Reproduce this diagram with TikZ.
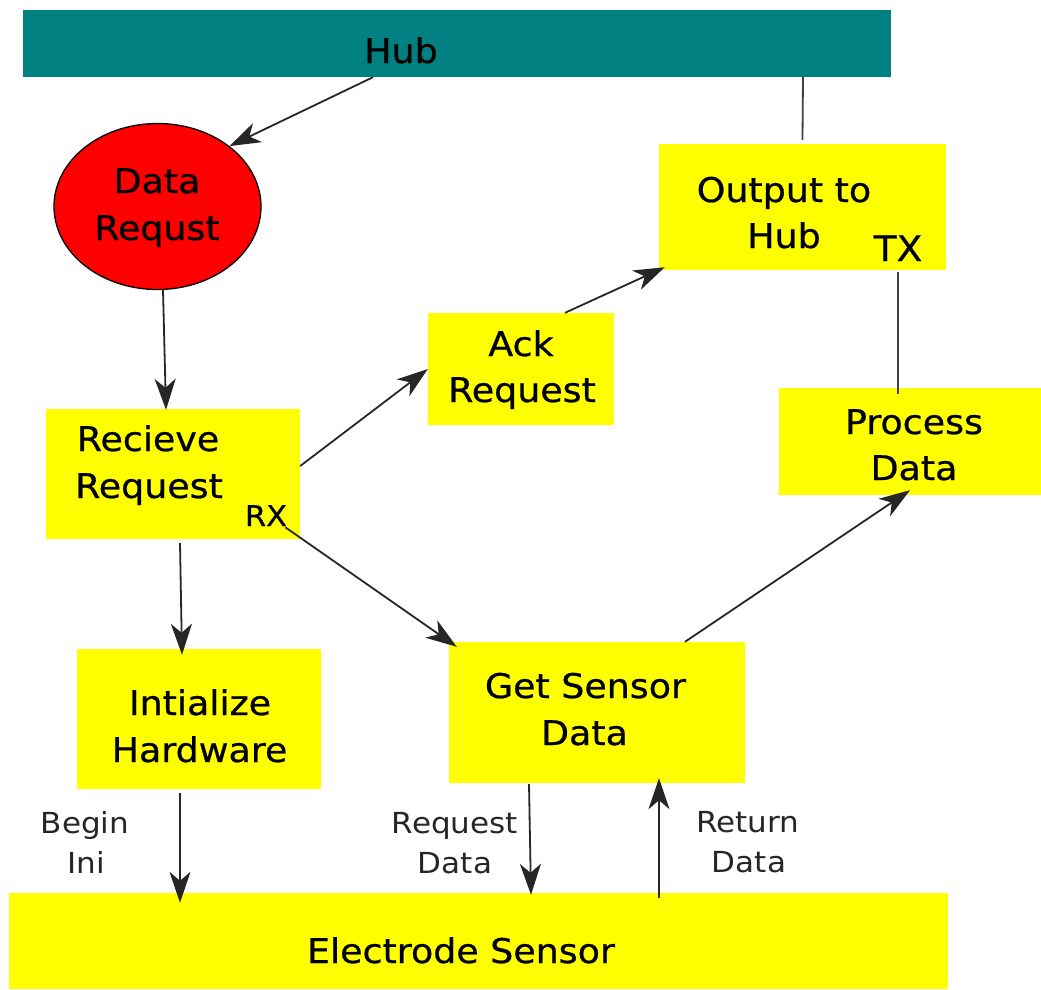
\documentclass[tikz,border=0pt]{standalone}
\usepackage{fontspec}
\setmainfont{DejaVu Sans}[FakeStretch=1.07]
\newfontfamily\heavyfont{DejaVu Sans}[FakeStretch=1.07,FakeBold=0.7]
\usetikzlibrary{arrows.meta,shapes.geometric}
\definecolor{hubteal}{RGB}{0,128,128}
\definecolor{boxyellow}{RGB}{255,255,0}
\definecolor{reqred}{RGB}{255,0,0}
\begin{document}
\begin{tikzpicture}[x=1pt,y=-1pt,
  ybox/.style={rectangle,fill=boxyellow,draw=none,inner sep=0pt,anchor=center},
  txt/.style={anchor=base,inner sep=0pt,font=\heavyfont\fontsize{34}{40}\selectfont},
  smalltxt/.style={anchor=base,inner sep=0pt,font=\fontsize{29}{34}\selectfont,text=black!85},
  arr/.style={line width=1.8pt,draw=black!85,-{Stealth[length=31pt,width=21pt,inset=9pt]}},
  plainline/.style={line width=1.8pt,draw=black!75}]
\useasboundingbox (0,0) rectangle (1041,989);
% shapes
\node[rectangle,fill=hubteal,inner sep=0pt,minimum width=868pt,minimum height=67pt] (hub) at (457,43.5) {};
\node[ellipse,fill=reqred,draw=black,line width=1.3pt,inner sep=0pt,minimum width=207pt,minimum height=166pt] (dr) at (157.5,206.5) {};
\node[ybox,minimum width=254pt,minimum height=130pt] (rr) at (173,474) {};
\node[ybox,minimum width=186pt,minimum height=112pt] (ack) at (521,369) {};
\node[ybox,minimum width=287pt,minimum height=126pt] (out) at (802.5,207) {};
\node[ybox,minimum width=262pt,minimum height=107pt] (proc) at (910,441.5) {};
\node[ybox,minimum width=244pt,minimum height=140pt] (init) at (199,719) {};
\node[ybox,minimum width=296pt,minimum height=141pt] (gs) at (597,712.5) {};
\node[ybox,minimum width=939pt,minimum height=96pt] (es) at (478.5,941) {};
% texts
\node[txt] (hubt) at (401,63) {Hub};
\node[txt] (drt1) at (157,193) {Data};
\node[txt] (drt2) at (157,240) {Requst};
\node[txt] (rrt1) at (148,451) {Recieve};
\node[txt] (rrt2) at (149,498) {Request};
\node[txt,font=\heavyfont\fontsize{28.5}{34}\selectfont] (rx) at (266,526) {RX};
\node[txt] (ackt1) at (521,356) {Ack};
\node[txt] (ackt2) at (522,402) {Request};
\node[txt] (outt1) at (784,202) {Output to};
\node[txt] (outt2) at (784,248) {Hub};
\node[txt,font=\heavyfont\fontsize{35}{40}\selectfont] (tx) at (898,261) {TX};
\node[txt] (proct1) at (914,434) {Process};
\node[txt] (proct2) at (914,480) {Data};
\node[txt] (initt1) at (200,715) {Intialize};
\node[txt] (initt2) at (199.5,762) {Hardware};
\node[txt] (gst1) at (585.5,698) {Get Sensor};
\node[txt] (gst2) at (584.5,745) {Data};
\node[txt] (est) at (461,963) {Electrode Sensor};
\node[smalltxt] (bi1) at (85,833) {Begin};
\node[smalltxt] (bi2) at (86,873) {Ini};
\node[smalltxt] (rd1) at (455,833) {Request};
\node[smalltxt] (rd2) at (455,873) {Data};
\node[smalltxt] (ret1) at (748,832) {Return};
\node[smalltxt] (ret2) at (749,872) {Data};
% connectors
\draw[arr] ([xshift=-84pt]hub.south) -- (dr.40);
\draw[arr] ([xshift=5.5pt]dr.south) -- ([xshift=-7pt,yshift=-1pt]rr.north);
\draw[arr] ([yshift=8pt]rr.east) -- (ack.west);
\draw[arr] ([xshift=44pt]ack.north) -- ([xshift=6pt,yshift=3pt]out.south west);
\draw[plainline] ([xshift=346pt]hub.south) -- ([yshift=4pt]out.north);
\draw[plainline] ([xshift=95.5pt,yshift=-2pt]out.south) -- ([xshift=-12pt,yshift=-6pt]proc.north);
\draw[arr] ([xshift=-15pt,yshift=12pt]rr.south east) -- ([xshift=8pt,yshift=-5pt]gs.north west);
\draw[arr] ([xshift=7pt,yshift=-4pt]rr.south) -- ([xshift=-17pt,yshift=-6pt]init.north);
\draw[arr] ([xshift=88pt]gs.north) -- ([yshift=5pt]proc.south);
\draw[arr] ([xshift=-19pt,yshift=-4pt]init.south) -- ([xshift=-298.5pt,yshift=-10pt]es.north);
\draw[arr] ([xshift=-68pt,yshift=-1pt]gs.south) -- ([xshift=52.5pt,yshift=-2pt]es.north);
\draw[arr] ([xshift=180.5pt,yshift=-5pt]es.north) -- ([xshift=62pt,yshift=5pt]gs.south);
\end{tikzpicture}
\end{document}
